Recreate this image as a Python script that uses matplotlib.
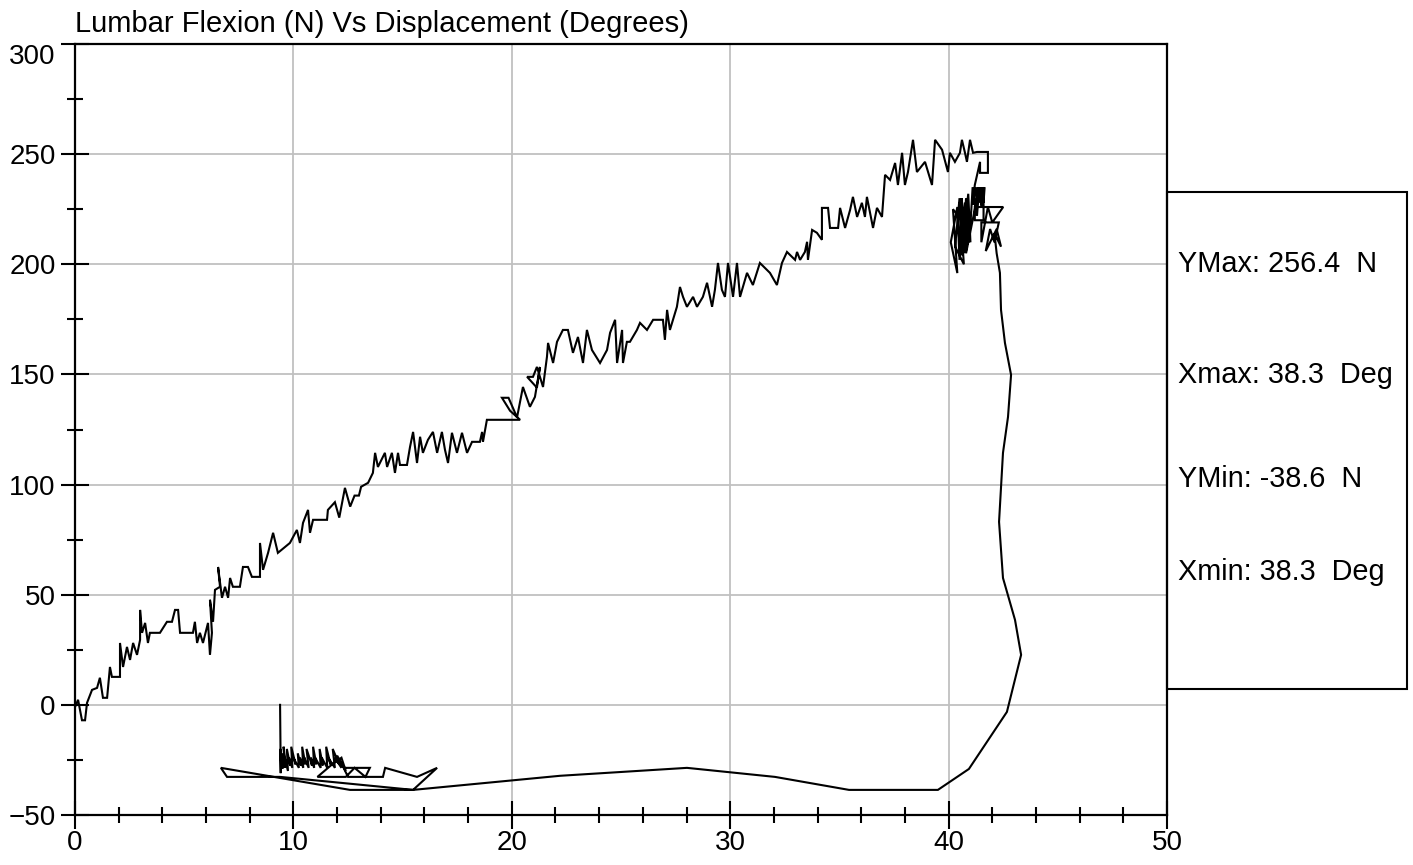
import numpy as np
import matplotlib
matplotlib.use('Agg')
import matplotlib.pyplot as plt
from matplotlib.ticker import MultipleLocator
from matplotlib.patches import Rectangle

plt.rcParams['font.family'] = ['Liberation Sans', 'DejaVu Sans']

# ---------------- data ----------------
title = "Lumbar Flexion (N) Vs Displacement (Degrees)"
x_ticks = [0, 10, 20, 30, 40, 50]
y_ticks = [-50, 0, 50, 100, 150, 200, 250, 300]
stats_labels = ["YMax: 256.4  N", "Xmax: 38.3  Deg", "YMin: -38.6  N", "Xmin: 38.3  Deg"]

# loading phase, 0 - 13.6 deg
rise1_x = [0.00, 0.14, 0.32, 0.46, 0.55, 0.78, 1.01, 1.14, 1.28, 1.47, 1.60, 1.69, 2.06, 2.06, 2.20,
           2.38, 2.52, 2.66, 2.84, 2.98, 2.98, 3.07, 3.21, 3.34, 3.43, 3.89, 4.21, 4.44, 4.58, 4.72,
           4.81, 5.40, 5.49, 5.59, 5.72, 5.86, 6.09, 6.18, 6.27, 6.18, 6.32, 6.41, 6.64, 6.55, 6.73,
           6.87, 7.01, 7.10, 7.23, 7.55, 7.69, 7.92, 8.10, 8.47, 8.47, 8.61, 8.84, 9.07, 9.29, 9.84,
           10.16, 10.30, 10.44, 10.67, 10.76, 10.90, 11.54, 11.58, 11.90, 12.10, 12.36, 12.60, 12.80,
           13.00, 13.10, 13.42]
rise1_y = [-1, 2.3, -7, -7, 0.9, 6.8, 7.7, 12.3, 3.2, 3.2, 17.2, 12.7, 12.7, 28.1, 17.2,
           26.3, 20.4, 28.1, 22.7, 29.5, 43.1, 32.7, 37.2, 28.1, 32.7, 32.7, 37.7, 37.7, 43.1, 43.1,
           32.7, 32.7, 37.7, 28.1, 32.7, 28.1, 37.2, 22.7, 32.7, 47.7, 37.7, 52.2, 53.6, 62.6, 48.6,
           53.6, 48.6, 57.6, 53.6, 53.6, 62.6, 62.6, 58.1, 58.1, 73.5, 61.3, 69.0, 78.1, 69.0, 73.5,
           79.4, 73.5, 82.6, 88.5, 78.1, 84.0, 84.0, 88.5, 92, 85, 98.5, 90, 95,
           95, 99, 100.8]

# loading phase, 13.6 - 22 deg
rise2_x = [13.64, 13.74, 13.87, 14.19, 14.29, 14.51, 14.65, 14.79, 14.88, 15.20, 15.34, 15.48, 15.66,
           15.80, 15.93, 16.16, 16.39, 16.58, 16.80, 16.94, 17.08, 17.26, 17.49, 17.72, 17.95, 18.18,
           18.54, 18.64, 18.68, 18.86, 20.38, 19.92, 19.55, 19.85, 20.24, 20.51, 20.83, 21.06, 21.29,
           21.15, 20.70, 20.97, 21.15, 21.43, 21.61, 21.66, 21.89, 22.07]
rise2_y = [105.3, 114.4, 108.0, 114.4, 108.0, 114.4, 105.3, 114.4, 108.9, 108.9, 117.1, 123.9, 109.8,
           121.7, 114.4, 120.3, 123.9, 114.4, 123.9, 115.8, 109.8, 123.5, 114.4, 123.5, 114.4, 119.4,
           119.4, 123.9, 119.4, 129.4, 129.4, 133.5, 139.4, 139.4, 130.5, 144.3, 135.3, 139.8, 153.4,
           144.0, 148.9, 148.9, 153.4, 144.3, 158.0, 164.3, 155.2, 164.8]

# loading phase, 22 - 33 deg
rise3_x = [22.34, 22.57, 22.80, 23.03, 23.26, 23.44, 23.67, 24.04, 24.36, 24.50, 24.73, 24.82, 25.05,
           25.09, 25.27, 25.41, 25.73, 25.87, 26.19, 26.47, 26.92, 27.01, 27.11, 27.24, 27.56, 27.70,
           27.84, 28.02, 28.30, 28.48, 28.75, 28.94, 29.17, 29.30, 29.44, 29.62, 29.76, 29.90, 30.13,
           30.31, 30.45, 30.77, 31.04, 31.36, 31.82, 32.14, 32.37, 32.60, 32.97]
rise3_y = [170.2, 170.2, 159.8, 167.0, 155.2, 170.2, 161.1, 155.2, 161.1, 168.9, 174.8, 155.2, 170.2,
           155.2, 164.8, 164.8, 170.2, 173.4, 170.2, 174.8, 174.8, 165.7, 179.3, 170.2, 180.7, 189.7,
           185.2, 180.7, 185.2, 180.7, 185.2, 191.6, 180.7, 188.4, 200.6, 188.4, 185.2, 200.6, 185.2,
           200.6, 185.2, 196.1, 190.6, 200.6, 196.1, 190.6, 200.6, 205.6, 202.0]

# loading phase up to the peak, 33 - 42 deg
rise4_x = [33.06, 33.20, 33.42, 33.52, 33.56, 33.75, 33.97, 34.20, 34.20, 34.48, 34.57, 34.94, 35.03,
           35.26, 35.49, 35.62, 35.81, 36.03, 36.17, 36.26, 36.54, 36.72, 36.95, 37.09, 37.32, 37.55,
           37.68, 37.87, 38.00, 38.14, 38.37, 38.55, 38.92, 39.24, 39.38, 39.70, 39.97, 40.06, 40.29,
           40.52, 40.61, 40.75, 40.84, 40.98, 41.12, 41.30, 41.80, 41.80, 41.44, 41.44]
rise4_y = [205.6, 202.0, 205.6, 210.2, 202.0, 215.6, 214.3, 211.1, 225.6, 225.6, 216.5, 216.5, 225.6,
           216.5, 224.7, 230.6, 221.5, 227.9, 221.5, 230.6, 216.5, 225.6, 221.5, 240.6, 238.3, 246.0,
           236.0, 250.6, 236.0, 241.9, 256.5, 241.9, 246.5, 236.0, 256.5, 252.0, 241.9, 250.6, 246.5,
           250.6, 256.5, 250.6, 246.5, 256.5, 250.6, 251.0, 251.0, 241.5, 241.5, 246.5]

# hold near peak
peak_x = [41.2, 41.1, 41.25, 41.3, 41.35, 41.4, 41.45, 41.5, 41.55, 41.6, 41.65, 41.5, 41.4,
          40.8, 40.6, 40.7, 40.9, 41.0, 40.5, 40.7, 40.3, 40.5, 40.6, 40.2, 40.4, 40.1, 40.4,
          40.5, 40.55, 40.6, 40.65, 40.7, 40.75, 40.8, 40.85, 40.9,
          40.6, 40.8, 41.0, 41.1, 41.3, 41.4, 41.5, 41.6, 41.6, 41.2, 41.2, 42.5, 42.0, 41.8, 41.5,
          41.5, 42.3, 42.1, 41.9, 41.7, 42.2, 42.4, 42.1, 42.2]
peak_y = [236, 227, 235, 227, 235, 228, 235, 227, 235, 228, 235, 229, 235,
          205, 230, 215, 232, 210, 228, 200, 208, 230, 220, 225, 196, 210, 226,
          202, 224, 204, 226, 205, 228, 206, 226, 210,
          205, 230, 218, 235, 222, 235, 226, 235, 220, 220, 226, 226, 219, 226, 210,
          219, 219, 210, 216, 206, 216, 208, 214, 205]

# unloading along the right side and the bottom
return_x = [42.35, 42.40, 42.58, 42.86, 42.72, 42.49, 42.31, 42.49, 43.04, 43.32, 42.67, 40.93,
            39.51, 35.44, 32.05, 28.02, 22.21, 15.48, 12.59, 6.68, 6.96, 9.39, 15.48, 16.58, 15.66]
return_y = [196.1, 179.3, 164.3, 149.8, 130.7, 114.4, 83.1, 57.6, 38.6, 22.7, -3.2, -29.1,
            -38.6, -38.6, -32.7, -28.6, -32.2, -38.6, -38.6, -28.6, -32.7, -32.7, -38.6, -28.6, -32.7]

# settling at rest
rest_x = [14.2, 14.1, 12.5, 12.3, 13.5, 13.3, 12.8, 12.4, 11.1, 11.8, 12.2, 12.4, 12.0, 12.2, 11.9,
          12.1, 11.8, 11.9, 11.6, 11.7, 11.5, 11.55, 11.3, 11.35, 11.2, 11.25, 11.0, 11.05, 10.9,
          10.95, 10.8, 10.85, 10.6, 10.7, 10.5, 10.55, 10.4, 10.45, 10.3, 10.35, 10.2, 10.25, 10.0,
          10.1, 9.9, 9.95, 9.8, 9.85, 9.7, 9.75, 9.6, 9.65, 9.55, 9.6, 9.5, 9.55, 9.45, 9.5, 9.42,
          9.45, 9.4, 9.42, 9.39]
rest_y = [-28.6, -32.7, -32.7, -28.6, -28.6, -32.7, -28.6, -32.7, -32.7, -26.8, -24, -30, -23, -28.6, -24,
          -27, -20, -28.6, -24, -27, -19, -28.6, -24, -27.5, -20, -28.6, -24, -27, -19,
          -28.6, -24, -27.5, -20, -28.6, -24, -27, -19, -28.6, -24, -27.5, -22, -28.6, -24,
          -27, -19, -28.6, -24, -27.5, -20, -30, -24, -27, -19, -28.6, -24, -27.5, -22, -29, -24,
          -27, -20, -31, 0]

disp = np.concatenate([rise1_x, rise2_x, rise3_x, rise4_x, peak_x, return_x, rest_x])
force = np.concatenate([rise1_y, rise2_y, rise3_y, rise4_y, peak_y, return_y, rest_y])

# ---------------- figure ----------------
W, H = 1413, 865
fig = plt.figure(figsize=(W / 100, H / 100), dpi=100)
ax = fig.add_axes([75 / W, 1 - 815 / H, (1167 - 75) / W, (815 - 44) / H])

ax.plot(disp, force, color='black', lw=1.5, solid_joinstyle='miter')

ax.set_xlim(0, 50)
ax.set_ylim(-50, 300)
ax.set_xticks(x_ticks)
ax.set_yticks(y_ticks)
ax.xaxis.set_minor_locator(MultipleLocator(2))
ax.yaxis.set_minor_locator(MultipleLocator(25))
ax.grid(True, which='major', color='#c0c0c0', lw=1.3)
ax.set_axisbelow(True)
ax.tick_params(which='major', direction='inout', length=20, width=1.5, labelsize=20)
ax.tick_params(axis='y', which='major', pad=4)
ax.tick_params(axis='x', which='major', pad=1)
ax.tick_params(which='minor', direction='inout', length=12, width=1.5)
for s in ax.spines.values():
    s.set_linewidth(1.6)

# top y label sits below its tick
fig.canvas.draw()
ax.get_yticklabels()[-1].set_verticalalignment('top')

fig.text(75 / W, 1 - 32 / H, title, fontsize=21, va='baseline', ha='left')

# stats box
fig.add_artist(Rectangle((1167 / W, 1 - 689 / H), 240 / W, 497 / H, transform=fig.transFigure,
                         fill=False, lw=1.5, ec='black'))
for lab, base in zip(stats_labels, [272, 383, 487, 580]):
    fig.text(1178 / W, 1 - base / H, lab, fontsize=20.8, va='baseline', ha='left')

fig.savefig('out.png', dpi=100)
